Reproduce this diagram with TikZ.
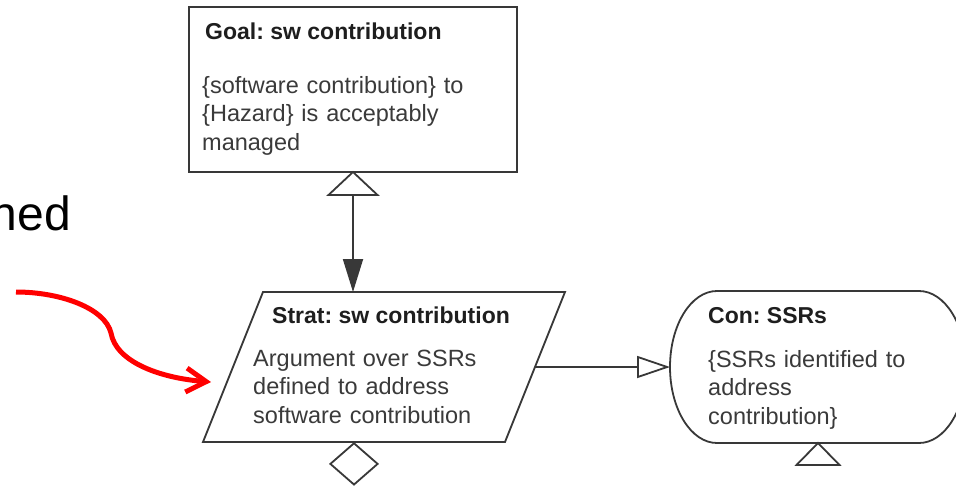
\documentclass[tikz,border=0pt]{standalone}
\usepackage{fontspec}
\setmainfont{Liberation Sans}
\usetikzlibrary{arrows.meta,shapes.geometric,calc}
\definecolor{ink}{HTML}{383838}
\definecolor{bodytxt}{HTML}{3A3A3A}
\definecolor{titletxt}{HTML}{1E1E1E}
\frenchspacing
\begin{document}
\begin{tikzpicture}[x=1pt,y=-1pt,
  outline/.style={draw=ink, line width=1.8pt, line join=miter},
  conn/.style={draw=ink, line width=1.8pt},
  frame/.style={inner sep=0pt, outer sep=0pt, draw=none},
  titletext/.style={font=\fontsize{23pt}{28pt}\selectfont\bfseries, text=titletxt,
    inner sep=0pt, anchor=base west},
  bodytext/.style={font=\fontsize{23.5pt}{28.5pt}\selectfont, text=bodytxt,
    inner sep=0pt, anchor=base west, align=left, text width=300pt},
  pointer/.style={draw=red, line width=5pt}
]
\useasboundingbox[fill=white] (0,0) rectangle (956,488);

% leftover word from the slide text
\node[font=\fontsize{48pt}{58pt}\selectfont, inner sep=0pt, anchor=base east] (word) at (71,230) {ned};

% Goal
\node[frame, outline, minimum width=328pt, minimum height=165pt] (goal) at (353,89.5) {};
\node[titletext] (goaltitle) at (205,39) {Goal: sw contribution};
\node[bodytext] (goalbody) at (202,93) {\{software contribution\} to\\\{Hazard\} is acceptably\\managed};
% uninstantiated marker under the goal
\draw[outline, fill=white] (goal.south) -- ++(24.5,23) -- ++(-49,0) -- cycle;
\coordinate (goalmark) at ($(goal.south)+(0,23)$);

% Strategy (parallelogram)
\node[frame, minimum width=302pt, minimum height=150pt] (strat) at (384,367) {};
\draw[outline] ([xshift=30pt]strat.north west) -- ([xshift=30pt]strat.north east)
  -- ([xshift=-30pt]strat.south east) -- ([xshift=-30pt]strat.south west) -- cycle;
\node[titletext] (strattitle) at (272,323) {Strat: sw contribution};
\node[bodytext] (stratbody) at (253,366) {Argument over SSRs\\defined to address\\software contribution};
% undeveloped marker under the strategy
\node[diamond, draw=ink, line width=1.8pt, minimum width=48pt, minimum height=42pt,
  inner sep=0pt, anchor=north] (stratmark) at ([xshift=-30pt]strat.south) {};

% Context (stadium)
\node[frame, minimum width=296pt, minimum height=152pt] (con) at (818,367) {};
\draw[outline] ([xshift=47pt]con.north west) -- ([xshift=-47pt]con.north east)
  arc[start angle=90, end angle=-90, x radius=47pt, y radius=76pt]
  -- ([xshift=47pt]con.south west)
  arc[start angle=270, end angle=90, x radius=47pt, y radius=76pt] -- cycle;
\node[titletext] (contitle) at (708,323) {Con: SSRs};
\node[bodytext] (conbody) at (708,367) {\{SSRs identified to\\address\\contribution\}};
\draw[outline] (con.south) -- ++(21.5,22) -- ++(-43,0) -- cycle;

% connectors
\draw[conn, -{Triangle[length=33pt, width=20pt]}] (goalmark) -- (goalmark |- strat.north);
\draw[conn, -{Triangle[open, length=33pt, width=22pt]}] (strat.east) -- (con.west);

% red pointer
\coordinate (ptrstart) at (16,292);
\coordinate (ptrend) at (211,382);
\draw[pointer, -{Straight Barb[length=20pt, width=24pt]}] (ptrstart)
  .. controls (60,292) and (105,308) .. (111,333)
  .. controls (116,362) and (160,378) .. (ptrend);
\end{tikzpicture}
\end{document}
